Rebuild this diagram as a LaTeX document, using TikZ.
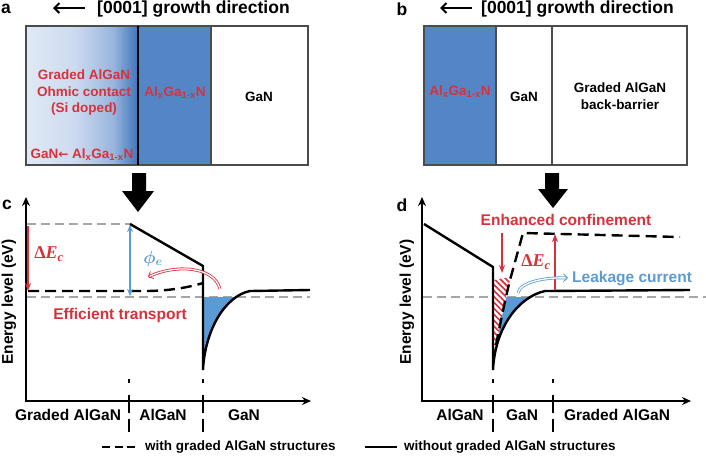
\documentclass[tikz,border=0pt]{standalone}
\usepackage{amsmath}
\usepackage{fontspec}
\setmainfont{Liberation Sans}
\newfontfamily\mathserif{Liberation Serif}
\usetikzlibrary{arrows.meta,patterns.meta}
\definecolor{myred}{HTML}{D9313B}
\definecolor{myblue}{HTML}{5B9BD5}
\definecolor{boxblue}{HTML}{5486C6}
\definecolor{wellblue}{HTML}{5B9BD5}
\definecolor{fermigray}{HTML}{A6A6A6}
\definecolor{gc0}{HTML}{E0E9F5}
\definecolor{gc1}{HTML}{CCDAEF}
\definecolor{gc2}{HTML}{98B5DD}
\definecolor{gc3}{HTML}{3E74BC}
\pgfdeclarehorizontalshading{gradal}{100bp}{color(0bp)=(gc0); color(25bp)=(gc0); color(47bp)=(gc1); color(64bp)=(gc2); color(75bp)=(gc3); color(100bp)=(gc3)}
\newcommand{\dEc}{{\mathserif\bfseries Δ\itshape E\textsubscript{c}}}
\begin{document}
\begin{tikzpicture}[x=1pt,y=-1pt,
  lettr/.style={font=\bfseries\fontsize{17.5}{20}\selectfont, inner sep=0pt},
  ttl/.style={font=\bfseries\fontsize{17.5}{20}\selectfont, inner sep=0pt, anchor=west},
  lbl/.style={font=\bfseries\fontsize{15.5}{18}\selectfont, inner sep=0pt},
  boxtxt/.style={font=\bfseries\fontsize{13.5}{16.5}\selectfont, align=center, inner sep=0pt},
  legtxt/.style={font=\bfseries\fontsize{13.5}{16}\selectfont, inner sep=0pt, anchor=west},
  mathlbl/.style={font=\fontsize{18}{21}\selectfont, inner sep=0pt},
  titlearrow/.style={line width=2pt, -{Straight Barb[length=5pt,width=10pt]}},
  boxline/.style={line width=1.2pt, draw=black!70},
  band/.style={line width=2.4pt, black},
  gradband/.style={line width=2.4pt, black, dash pattern=on 11pt off 6pt},
  fermi/.style={fermigray, line width=1.5pt, dash pattern=on 9pt off 5pt},
  divider/.style={line width=1.8pt, dash pattern=on 4pt off 12pt on 18pt off 6pt on 14pt},
  axes/.style={line width=2pt, {Stealth[length=9pt,width=8pt]}-{Stealth[length=9pt,width=8pt]}},
  redarr/.style={myred, line width=2pt, -{Stealth[length=8pt,width=6pt]}},
  dblarr/.style={double=white, double distance=1.3pt, line width=0.8pt, -{Straight Barb[length=4pt,width=8pt]}}
]
\useasboundingbox (0,0) rectangle (706,456);

% ---------------- panel a ----------------
\node[lettr] (la) at (6,9) {a};
\coordinate (aa1) at (85,8); \coordinate (aa2) at (53,8);
\draw[titlearrow] (aa1) -- (aa2);
\node[ttl] (ta) at (97,9) {[0001] growth direction};
\shade[shading=gradal] (26,26) rectangle (138,165);
\fill[boxblue] (138,26) rectangle (211,165);
\draw[boxline] (26,26) rectangle (308,165);
\draw[line width=1.2pt] (138,26) -- (138,165);
\draw[boxline] (211,26) -- (211,165);
\node[boxtxt, text=myred] (ga) at (84,93) {Graded AlGaN\\Ohmic contact\\(Si doped)};
\node[boxtxt, text=myred] (ala) at (175,93) {Al\textsubscript{x}Ga\textsubscript{1-x}N};
\node[boxtxt] (gna) at (259,97) {GaN};
\node[boxtxt, text=myred] (gra) at (82,155) {GaN\fontspec{DejaVu Sans}\bfseries\fontsize{12}{14}\selectfont←\fontspec{Liberation Sans}\bfseries\fontsize{13.5}{16}\selectfont\ Al\textsubscript{x}Ga\textsubscript{1-x}N};
\fill (132,173) -- (146,173) -- (146,191) -- (154,191) -- (138,212) -- (122,191) -- (132,191) -- cycle;

% ---------------- panel b ----------------
\node[lettr] (lb) at (402,9) {b};
\coordinate (ba1) at (472,8); \coordinate (ba2) at (440,8);
\draw[titlearrow] (ba1) -- (ba2);
\node[ttl] (tb) at (481,9) {[0001] growth direction};
\fill[boxblue] (424,26) rectangle (496,165);
\draw[boxline] (424,26) rectangle (687,165);
\draw[boxline] (496,26) -- (496,165);
\draw[boxline] (552,26) -- (552,165);
\node[boxtxt, text=myred] (alb) at (460,92) {Al\textsubscript{x}Ga\textsubscript{1-x}N};
\node[boxtxt] (gnb) at (524,97) {GaN};
\node[boxtxt] (ggb) at (620,96) {Graded AlGaN\\back-barrier};
\fill (545,173) -- (559,173) -- (559,189) -- (568,189) -- (553,208) -- (538,189) -- (545,189) -- cycle;

% ---------------- panel c ----------------
\node[lettr] (lc) at (7,205) {c};
\node[lbl, rotate=90] (eyc) at (9,302) {Energy level (eV)};
\coordinate (cy) at (26,197); \coordinate (co) at (26,401); \coordinate (cx) at (311,401);
\draw[axes] (cy) -- (co) -- (cx);
\draw[fermi] (27,224) -- (130,224);
\draw[fermi] (27,297) -- (310,297);
\begin{scope}
  \clip (203,297) rectangle (300,400);
  \fill[wellblue] (203,370) .. controls (205,330) and (225,296) .. (250,291) -- (203,291) -- cycle;
\end{scope}
\draw[band] (130,224) -- (203,266) -- (203,370) .. controls (205,330) and (225,296) .. (250,291) -- (310,290);
\draw[gradband] (28,291) -- (145,291) .. controls (170,291) and (190,287) .. (203,283);
\draw[redarr] (28,226) -- (28,291);
\node[mathlbl, text=myred] (dec) at (49,254) {\dEc};
\draw[myblue, line width=1.6pt, {Stealth[length=7pt,width=6pt]}-{Stealth[length=7pt,width=6pt]}] (130,225) -- (130,296);
\node[mathlbl, text=myblue] (phi) at (153,259) {$\boldsymbol{\phi_e}$};
\draw[dblarr, myred] (220,289) .. controls (214,266) and (175,264) .. (148,277);
\node[lbl, text=myred] (eff) at (120,315) {Efficient transport};
\draw[divider] (129,379) -- (129,432);
\draw[divider] (203,379) -- (203,432);
\node[lbl] (xc1) at (68,415) {Graded AlGaN};
\node[lbl] (xc2) at (163,415) {AlGaN};
\node[lbl] (xc3) at (244,415) {GaN};

% ---------------- panel d ----------------
\node[lettr] (ld) at (402,205) {d};
\node[lbl, rotate=90] (eyd) at (407,302) {Energy level (eV)};
\coordinate (dy) at (422,197); \coordinate (do) at (422,401); \coordinate (dx) at (691,401);
\draw[axes] (dy) -- (do) -- (dx);
\draw[fermi] (423,297) -- (706,297);
\begin{scope}
  \clip (493,297) rectangle (600,400);
  \fill[wellblue] (496,345) .. controls (501,320) and (505,300) .. (510,280) -- (548,280) -- (545,291) .. controls (518,297) and (495,328) .. (493,370) -- cycle;
\end{scope}
\fill[white] (494,280) -- (510,277) -- (510,280) .. controls (505,300) and (501,320) .. (496,345) -- (494,345) -- cycle;
\fill[pattern={Lines[angle=-45,distance=4.2pt,line width=1.6pt]}, pattern color=myred] (494,280) -- (510,277) -- (510,280) .. controls (505,300) and (501,320) .. (496,345) -- (494,345) -- cycle;
\draw[band] (424,224) -- (493,267) -- (493,370) .. controls (495,328) and (518,297) .. (545,291) -- (690,290);
\draw[gradband] (496,345) .. controls (501,320) and (505,300) .. (510,280) -- (523,233) -- (680,237);
\draw[redarr] (502,233) -- (502,273);
\node[lbl, text=myred] (enh) at (566,220) {Enhanced confinement};
\draw[redarr] (555,290) -- (555,234);
\node[mathlbl, text=myred] (ded) at (536,262) {\dEc};
\draw[dblarr, myblue] (518,293) .. controls (520,282) and (545,277) .. (568,278);
\node[lbl, text=myblue, anchor=west] (leak) at (572,279) {Leakage current};
\draw[divider] (493,379) -- (493,432);
\draw[divider] (553,379) -- (553,432);
\node[lbl] (xd1) at (460,415) {AlGaN};
\node[lbl] (xd2) at (522,415) {GaN};
\node[lbl] (xd3) at (617,415) {Graded AlGaN};

% ---------------- legend ----------------
\coordinate (l1a) at (102,447); \coordinate (l1b) at (135,447);
\draw[line width=2.4pt, dash pattern=on 8pt off 4.5pt] (l1a) -- (l1b);
\node[legtxt] (leg1) at (145,447) {with graded AlGaN structures};
\coordinate (l2a) at (365,447); \coordinate (l2b) at (397,447);
\draw[band] (l2a) -- (l2b);
\node[legtxt] (leg2) at (404,447) {without graded AlGaN structures};
\end{tikzpicture}
\end{document}
